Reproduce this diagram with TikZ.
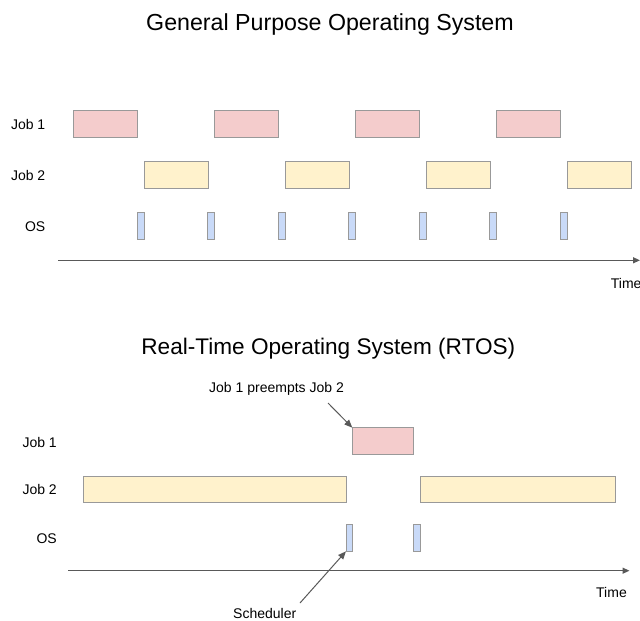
\documentclass[tikz,border=0pt]{standalone}
\usepackage{fontspec}
\setmainfont{Liberation Sans}
\usetikzlibrary{arrows.meta}
\definecolor{jobonefill}{HTML}{F4CCCC}
\definecolor{jobtwofill}{HTML}{FFF2CC}
\definecolor{osfill}{HTML}{C9DAF8}
\definecolor{boxline}{HTML}{999999}
\definecolor{axisline}{HTML}{595959}
\tikzset{
  slot/.style={draw=boxline, line width=0.9pt, rectangle, inner sep=0pt, outer sep=0pt, anchor=north west},
  jobone/.style={slot, fill=jobonefill, minimum width=64pt, minimum height=27.5pt},
  jobtwo/.style={slot, fill=jobtwofill, minimum height=27.5pt},
  osbox/.style={slot, fill=osfill, minimum width=7pt, minimum height=27.5pt},
  lbl/.style={inner sep=0pt, font=\fontsize{14}{16}\selectfont},
  ttl/.style={inner sep=0pt, anchor=base, font=\fontsize{23.2}{26}\selectfont},
  axis/.style={draw=axisline, line width=1.3pt, -{Triangle[length=7pt,width=6pt]}},
  ptr/.style={draw=axisline, line width=1pt, -{Triangle[length=8pt,width=6.5pt]}}
}
\begin{document}
\begin{tikzpicture}[x=1pt, y=-1pt]
  \useasboundingbox (0,0) rectangle (640,621);

  % ---- General purpose OS ----
  \node[ttl] (t1) at (330,30.5) {General Purpose Operating System};
  \node[lbl, anchor=base east] (l1) at (45.5,129.5) {Job 1};
  \node[lbl, anchor=base east] (l2) at (45.5,180.5) {Job 2};
  \node[lbl, anchor=base east] (l3) at (45.5,231.5) {OS};

  \foreach \i/\x in {1/73,2/214,3/355,4/496}
    \node[jobone] (ga\i) at (\x,110) {};
  \foreach \i/\x in {1/144,2/285,3/426,4/567}
    \node[jobtwo, minimum width=64pt] (gb\i) at (\x,161) {};
  \foreach \i/\x in {1/137,2/207,3/278,4/348.5,5/419,6/489.5,7/560}
    \node[osbox] (gc\i) at (\x,212.3) {};

  \coordinate (gx0) at (58,260.3);
  \coordinate (gx1) at (640,260.3);
  \draw[axis] (gx0) -- (gx1);
  \node[lbl, anchor=base west] (gtime) at (610.7,288.5) {Time};

  % ---- Real-time OS ----
  \node[ttl, font=\fontsize{22.6}{26}\selectfont] (t2) at (328.3,354.3) {Real-Time Operating System (RTOS)};
  \node[lbl, anchor=base east] (m1) at (57,447) {Job 1};
  \node[lbl, anchor=base east] (m2) at (57,494.5) {Job 2};
  \node[lbl, anchor=base east] (m3) at (57,543.5) {OS};

  \node[lbl, anchor=base west] (pre) at (209,392.5) {Job 1 preempts Job 2};
  \node[jobone, minimum width=61.5pt, minimum height=26.5pt] (ra1) at (352.3,427.7) {};
  \node[jobtwo, minimum width=263pt, minimum height=25.8pt] (rb1) at (83.3,476.7) {};
  \node[jobtwo, minimum width=195.3pt, minimum height=25.8pt] (rb2) at (420,476.7) {};
  \node[osbox, minimum width=6.7pt, minimum height=26.6pt] (rc1) at (346,524.7) {};
  \node[osbox, minimum width=6.7pt, minimum height=26.6pt] (rc2) at (413.3,524.7) {};

  \coordinate (rx0) at (68.3,570.7);
  \coordinate (rx1) at (629.5,570.7);
  \draw[axis] (rx0) -- (rx1);
  \node[lbl, anchor=base west] (rtime) at (596,597.7) {Time};
  \node[lbl, anchor=base west] (sched) at (233,618.5) {Scheduler};

  \coordinate (pretail) at (328,403);
  \draw[ptr] (pretail) -- (ra1.north west);
  \coordinate (schedtail) at (300,603);
  \draw[ptr] (schedtail) -- (rc1.south west);
\end{tikzpicture}
\end{document}
